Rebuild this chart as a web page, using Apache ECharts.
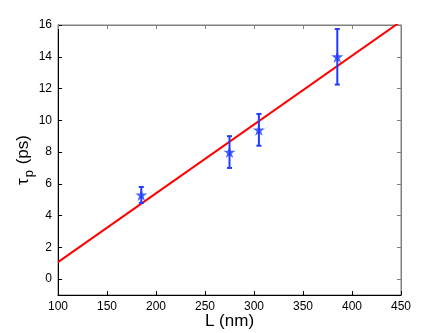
<!DOCTYPE html>
<html><head><meta charset="utf-8">
<script src="https://cdn.jsdelivr.net/npm/echarts@6/dist/echarts.min.js"></script>
<style>html,body{margin:0;padding:0;background:#fff}#c{width:443px;height:333px}</style>
</head><body><div id="c"></div>
<script>
// Data
var lengthNm = [185, 275, 305, 385];
var tauPs = [5.3, 8.0, 9.4, 14.0];
var errLow = [0.5, 1.0, 1.0, 1.75];
var errHigh = [0.5, 1.0, 1.0, 1.75];
var fitX = [100, 450];
var fitY = [1.07, 16.23];
var yTicks = [0, 2, 4, 6, 8, 10, 12, 14, 16];

var pts = lengthNm.map(function (x, i) { return [x, tauPs[i]]; });
var errData = lengthNm.map(function (x, i) { return [x, tauPs[i] - errLow[i], tauPs[i] + errHigh[i]]; });
var fitData = fitX.map(function (x, i) { return [x, fitY[i]]; });

var blue = '#1f3cff';
var font = 'Liberation Sans, Arial, sans-serif';
var star = 'path://M50,0 L61.2,34.5 L97.6,34.5 L68.2,55.9 L79.4,90.5 L50,69.1 L20.6,90.5 L31.8,55.9 L2.4,34.5 L38.8,34.5 Z';

var chart = echarts.init(document.getElementById('c'), null, {renderer: 'canvas'});
chart.setOption({
  animation: false,
  grid: {left: 58, right: 42, top: 25, bottom: 38, show: true, borderColor: '#808080', borderWidth: 1,
         backgroundColor: 'transparent', containLabel: false, outerBoundsMode: 'none'},
  xAxis: [{
    type: 'value', min: 100, max: 450, interval: 50, position: 'bottom',
    name: 'L (nm)', nameLocation: 'middle', nameGap: 18, nameMoveOverlap: false,
    nameTextStyle: {fontFamily: font, fontSize: 17, color: '#000'},
    axisLine: {show: true, onZero: false, lineStyle: {color: '#000', width: 1}},
    axisTick: {show: true, inside: true, length: 4, lineStyle: {color: '#000'}},
    axisLabel: {fontFamily: font, fontSize: 12, color: '#000', margin: 6},
    splitLine: {show: false}
  }, {
    type: 'value', min: 100, max: 450, interval: 50, position: 'top',
    axisLine: {show: true, onZero: false, lineStyle: {color: '#808080', width: 1}},
    axisTick: {show: true, inside: true, length: 4, lineStyle: {color: '#808080'}},
    axisLabel: {show: false}, splitLine: {show: false}
  }],
  yAxis: [{
    type: 'value', min: -1, max: 16, position: 'left',
    name: '{a|τ}{s|p}{a| (ps)}', nameLocation: 'middle', nameGap: 25, nameRotate: 90, nameMoveOverlap: false,
    nameTextStyle: {
      fontFamily: font, color: '#000',
      rich: {
        a: {fontFamily: font, fontSize: 17, color: '#000', lineHeight: 20},
        s: {fontFamily: font, fontSize: 13, color: '#000', lineHeight: 20, padding: [12, 1, 0, 1]}
      }
    },
    axisLine: {show: true, onZero: false, lineStyle: {color: '#000', width: 1}},
    axisTick: {show: true, inside: true, length: 4, customValues: yTicks, lineStyle: {color: '#000'}},
    axisLabel: {fontFamily: font, fontSize: 12, color: '#000', margin: 6, customValues: yTicks},
    splitLine: {show: false}
  }, {
    type: 'value', min: -1, max: 16, position: 'right',
    axisLine: {show: true, onZero: false, lineStyle: {color: '#808080', width: 1}},
    axisTick: {show: true, inside: true, length: 4, customValues: yTicks, lineStyle: {color: '#808080'}},
    axisLabel: {show: false}, splitLine: {show: false}
  }],
  series: [{
    type: 'line', data: fitData, showSymbol: false, symbol: 'none', clip: true,
    lineStyle: {color: '#ff0000', width: 2}, z: 2
  }, {
    type: 'custom', data: errData, z: 3,
    renderItem: function (params, api) {
      var x = api.value(0);
      var lo = api.coord([x, api.value(1)]);
      var hi = api.coord([x, api.value(2)]);
      var w = 2.5;
      var st = {stroke: blue, lineWidth: 2};
      return {type: 'group', children: [
        {type: 'line', shape: {x1: lo[0], y1: lo[1], x2: hi[0], y2: hi[1]}, style: st},
        {type: 'line', shape: {x1: lo[0] - w, y1: lo[1], x2: lo[0] + w, y2: lo[1]}, style: st},
        {type: 'line', shape: {x1: hi[0] - w, y1: hi[1], x2: hi[0] + w, y2: hi[1]}, style: st}
      ]};
    }
  }, {
    type: 'scatter', data: pts, symbol: star, symbolSize: 12, z: 4,
    itemStyle: {color: blue}
  }]
});
</script></body></html>
